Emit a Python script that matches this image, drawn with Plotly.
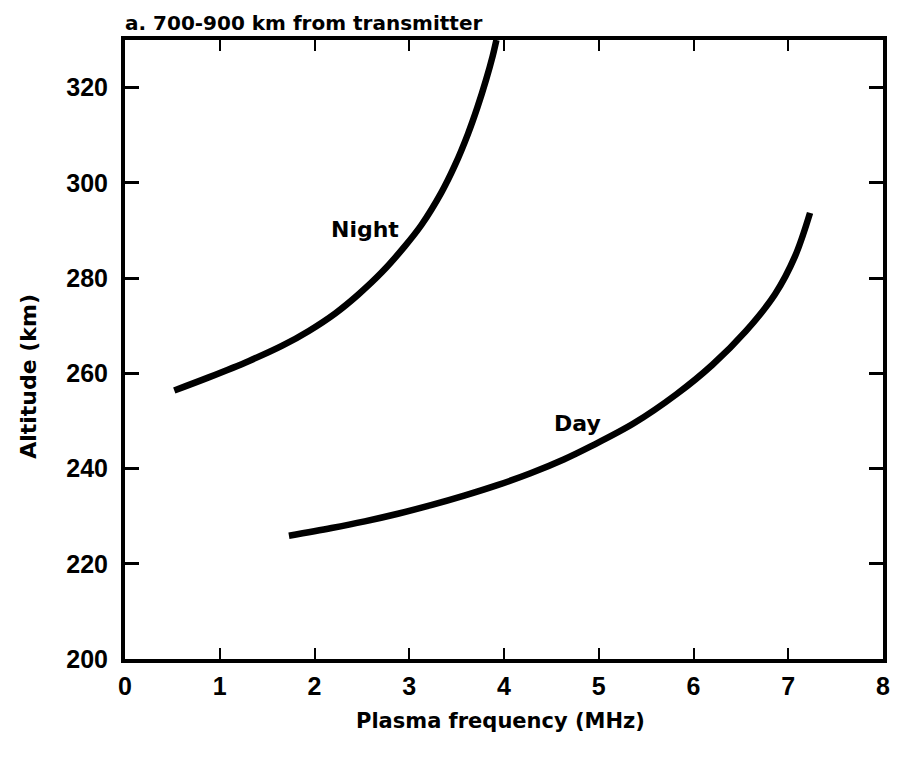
import plotly.graph_objects as go

night_freq = [0.52, 0.89, 1.31, 1.66, 1.94, 2.22, 2.46, 2.71, 2.95, 3.13, 3.34, 3.48, 3.62, 3.72, 3.81, 3.88, 3.92]
night_alt = [256.4, 259.2, 262.6, 265.8, 268.9, 272.6, 276.5, 281.2, 286.6, 291.2, 298.0, 303.6, 310.3, 315.9, 321.6, 326.6, 330.0]
day_freq = [1.73, 2.18, 2.53, 2.88, 3.23, 3.58, 3.93, 4.28, 4.63, 4.91, 5.37, 5.82, 6.20, 6.55, 6.86, 7.07, 7.23]
day_alt = [225.9, 227.5, 228.9, 230.5, 232.3, 234.3, 236.5, 239.0, 241.9, 244.6, 249.5, 255.6, 261.8, 268.8, 276.6, 284.5, 293.7]

x_ticks = [0, 1, 2, 3, 4, 5, 6, 7, 8]
y_ticks = [200, 220, 240, 260, 280, 300, 320]

TXT = "DejaVu Sans"
NUM = "Liberation Sans"

fig = go.Figure()
fig.add_trace(go.Scatter(x=night_freq, y=night_alt, mode="lines", name="Night",
                         line=dict(color="black", width=6.5, shape="spline", smoothing=1.0)))
fig.add_trace(go.Scatter(x=day_freq, y=day_alt, mode="lines", name="Day",
                         line=dict(color="black", width=6.5, shape="spline", smoothing=1.0)))

fig.update_layout(
    width=888, height=753,
    margin=dict(l=117, r=6, t=32, b=102),
    paper_bgcolor="white", plot_bgcolor="white",
    showlegend=False,
    font=dict(family=TXT, size=20, color="black", weight="bold"),
)
fig.update_xaxes(range=[0, 8], tickvals=x_ticks, showgrid=False, zeroline=False,
                 showline=True, linecolor="black", linewidth=4, mirror="ticks",
                 ticks="inside", ticklen=11, tickwidth=2, tickcolor="black",
                 ticklabelstandoff=2,
                 tickfont=dict(family=NUM, size=25, weight="bold"))
fig.update_yaxes(range=[200, 330], tickvals=y_ticks, showgrid=False, zeroline=False,
                 showline=True, linecolor="black", linewidth=4, mirror="ticks",
                 ticks="inside", ticklen=14, tickwidth=3, tickcolor="black",
                 ticklabelstandoff=8,
                 tickfont=dict(family=NUM, size=25, weight="bold"))

fig.add_annotation(text="a. 700-900 km from transmitter", xref="paper", yref="paper",
                   x=-0.003, y=1.027, xanchor="left", yanchor="middle", showarrow=False,
                   font=dict(family=TXT, size=20, weight="bold"))
fig.add_annotation(text="Plasma frequency (MHz)", xref="paper", yref="paper",
                   x=0.495, y=-0.100, xanchor="center", yanchor="middle", showarrow=False,
                   font=dict(family=TXT, size=21, weight="bold"))
fig.add_annotation(text="Altitude (km)", xref="paper", yref="paper",
                   x=-0.1265, y=0.456, xanchor="center", yanchor="middle", showarrow=False,
                   textangle=-90, font=dict(family=TXT, size=22, weight="bold"))
fig.add_annotation(text="Night", x=2.53, y=290.2, showarrow=False,
                   font=dict(family=TXT, size=22, weight="bold"))
fig.add_annotation(text="Day", x=4.78, y=249.4, showarrow=False,
                   font=dict(family=TXT, size=22, weight="bold"))

fig.write_html("out.html")
